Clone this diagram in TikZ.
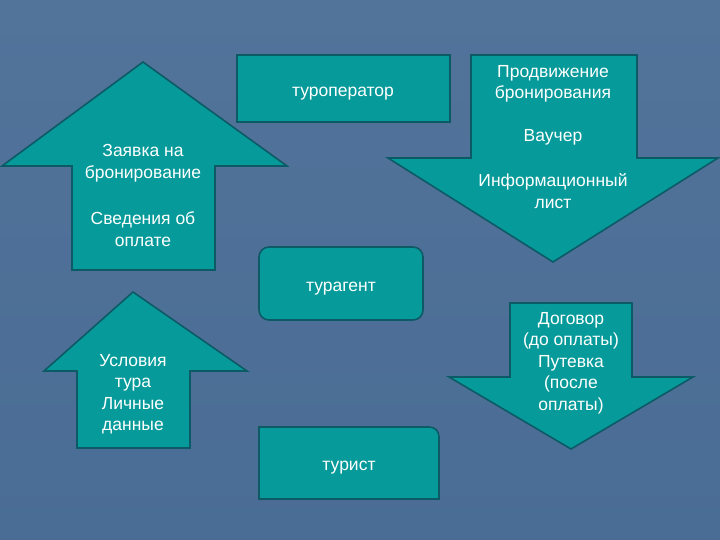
\documentclass[tikz,border=0pt]{standalone}
\usepackage{fontspec}
\setmainfont{Liberation Sans}
\definecolor{bgtop}{HTML}{52739A}
\definecolor{bgbot}{HTML}{4A6D95}
\definecolor{tealfill}{HTML}{079A9A}
\definecolor{tealline}{HTML}{0C5A66}
\begin{document}
\begin{tikzpicture}[x=1pt,y=-1pt,
  tealshape/.style={fill=tealfill,draw=tealline,line width=1.6pt,line join=miter},
  lbl/.style={text=white,font=\fontsize{17.5}{21.5}\selectfont,align=center,inner sep=0pt,yshift=-3pt}]
\useasboundingbox (0,0) rectangle (720,540);
\shade[top color=bgtop,bottom color=bgbot] (0,0) rectangle (720,540);
% arrow 1 (up, top-left)
\draw[tealshape] (143,62) -- (287,166) -- (215,166) -- (215,270) -- (72,270) -- (72,166) -- (2,166) -- cycle;
% arrow 2 (down, top-right)
\draw[tealshape] (471,55) -- (637,55) -- (637,158) -- (718,158) -- (553,262) -- (388,158) -- (471,158) -- cycle;
% arrow 3 (down, bottom-right)
\draw[tealshape] (510,303) -- (632,303) -- (632,377) -- (693,377) -- (571,449) -- (449,377) -- (510,377) -- cycle;
% arrow 4 (up, bottom-left)
\draw[tealshape] (133,292) -- (247,371) -- (190,371) -- (190,448) -- (77,448) -- (77,371) -- (44,371) -- cycle;
% boxes
\draw[tealshape] (237,55) rectangle (450,122);
\draw[tealshape,rounded corners=10pt] (259,247) rectangle (423,320);
\draw[tealshape] (259,427) -- (429,427) .. controls (435,427) and (439,431) .. (439,437) -- (439,499) -- (259,499) -- cycle;
% labels
\node[lbl] (tuop) at (343,91) {туроператор};
\node[lbl] (tuag) at (341,286) {турагент};
\node[lbl] (tur) at (349,465) {турист};
\node[lbl] (a1a) at (143,160) {Заявка на\\бронирование};
\node[lbl] (a1b) at (143,226) {Сведения об\\оплате};
\node[lbl] (a2a) at (553,81) {Продвижение\\бронирования};
\node[lbl] (a2b) at (553,134) {Ваучер};
\node[lbl] (a2c) at (553,188) {Информационный\\лист};
\node[lbl] (a3) at (571,360) {Договор\\(до оплаты)\\Путевка\\(после\\оплаты)};
\node[lbl] (a4) at (133,391) {Условия\\тура\\Личные\\данные};
\end{tikzpicture}
\end{document}
